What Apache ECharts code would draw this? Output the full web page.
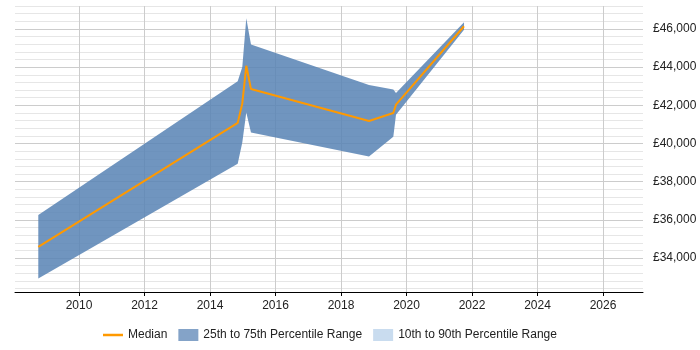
<!DOCTYPE html>
<html><head><meta charset="utf-8">
<script src="https://cdn.jsdelivr.net/npm/echarts@6/dist/echarts.min.js"></script>
<style>html,body{margin:0;padding:0;background:#fff}#c{width:700px;height:350px}</style>
</head><body><div id="c"></div>
<script>
// Data
const years  = [2008.757, 2014.846, 2014.986, 2015.108, 2015.252, 2018.855, 2019.597, 2019.679, 2021.756];
const median = [34590, 41080, 42100, 44070, 42850, 41180, 41600, 42035, 46140];
const p25    = [32935, 38940, 40050, 41620, 40570, 39320, 40350, 41510, 45950];
const p75    = [36260, 43260, 44000, 46560, 45180, 43060, 42830, 42640, 46345];
const p10    = [];
const xTicks = [2010, 2012, 2014, 2016, 2018, 2020, 2022, 2024, 2026];
const yLabels = [34000, 36000, 38000, 40000, 42000, 44000, 46000];
const yGrid = [32400, 32800, 33200, 33600, 34000, 34400, 34800, 35200, 35600, 36000,
  36400, 36800, 37200, 37600, 38000, 38400, 38800, 39200, 39600, 40000,
  40400, 40800, 41200, 41600, 42000, 42400, 42800, 43200, 43600, 44000,
  44400, 44800, 45200, 45600, 46000, 46400, 46800, 47200];

const FONT = "'Liberation Sans', Arial, sans-serif";
const Y_MIN = 32225, Y_MAX = 47200;
const medData = years.map((x, i) => [x, median[i]]);
const bandData = years.map((x, i) => [x, p25[i], p75[i]]);

const chart = echarts.init(document.getElementById('c'), null, {renderer: 'canvas'});
chart.setOption({
  animation: false,
  textStyle: {fontFamily: FONT},
  grid: {left: 15, right: 57, top: 6, bottom: 58, containLabel: false},
  xAxis: {
    type: 'value', min: 2008.046, max: 2027.221,
    axisLine: {show: true, lineStyle: {color: '#000', width: 1}},
    axisTick: {show: true, length: 4, lineStyle: {color: '#000'}, customValues: xTicks},
    axisLabel: {customValues: xTicks, formatter: v => String(v), color: '#222', fontSize: 12, margin: 8, fontFamily: FONT},
    splitLine: {show: true, lineStyle: {color: '#cccccc', width: 1}}
  },
  yAxis: [
    {
      type: 'value', position: 'right', min: Y_MIN, max: Y_MAX,
      axisLine: {show: false},
      axisTick: {show: false, customValues: yGrid},
      axisLabel: {customValues: yLabels, formatter: v => '£' + v.toLocaleString('en-GB'), color: '#222', fontSize: 12, margin: 10, fontFamily: FONT},
      splitLine: {show: true, lineStyle: {color: '#e6e6e6', width: 1}}
    },
    {
      type: 'value', position: 'right', min: Y_MIN, max: Y_MAX,
      axisLine: {show: false},
      axisTick: {show: false, customValues: yLabels},
      axisLabel: {show: false},
      splitLine: {show: true, lineStyle: {color: '#cccccc', width: 1}}
    }
  ],
  legend: {
    left: 103, top: 329, padding: 0, itemWidth: 20, itemHeight: 12, itemGap: 11,
    textStyle: {fontSize: 12, color: '#222', fontFamily: FONT},
    data: [
      {name: 'Median', icon: 'path://M0,0 H20 V2.5 H0 Z'},
      {name: '25th to 75th Percentile Range', icon: 'rect'},
      {name: '10th to 90th Percentile Range', icon: 'rect'}
    ]
  },
  series: [
    {
      name: '10th to 90th Percentile Range', type: 'line', data: p10,
      itemStyle: {color: '#c9dcef'}, symbol: 'none', lineStyle: {opacity: 0}
    },
    {
      name: '25th to 75th Percentile Range', type: 'custom', data: bandData,
      encode: {x: 0, y: [1, 2]},
      itemStyle: {color: '#84a3c8'},
      renderItem: function (params, api) {
        if (params.dataIndex !== 0) return;
        const upper = bandData.map(d => api.coord([d[0], d[2]]));
        const lower = bandData.map(d => api.coord([d[0], d[1]])).reverse();
        return {
          type: 'polygon',
          shape: {points: upper.concat(lower)},
          style: {fill: 'rgba(87,131,180,0.85)', stroke: null}
        };
      },
      z: 3
    },
    {
      name: 'Median', type: 'line', data: medData, symbol: 'none',
      itemStyle: {color: '#ff9900'}, lineStyle: {color: '#ff9900', width: 2}, z: 5
    }
  ]
});
</script></body></html>
